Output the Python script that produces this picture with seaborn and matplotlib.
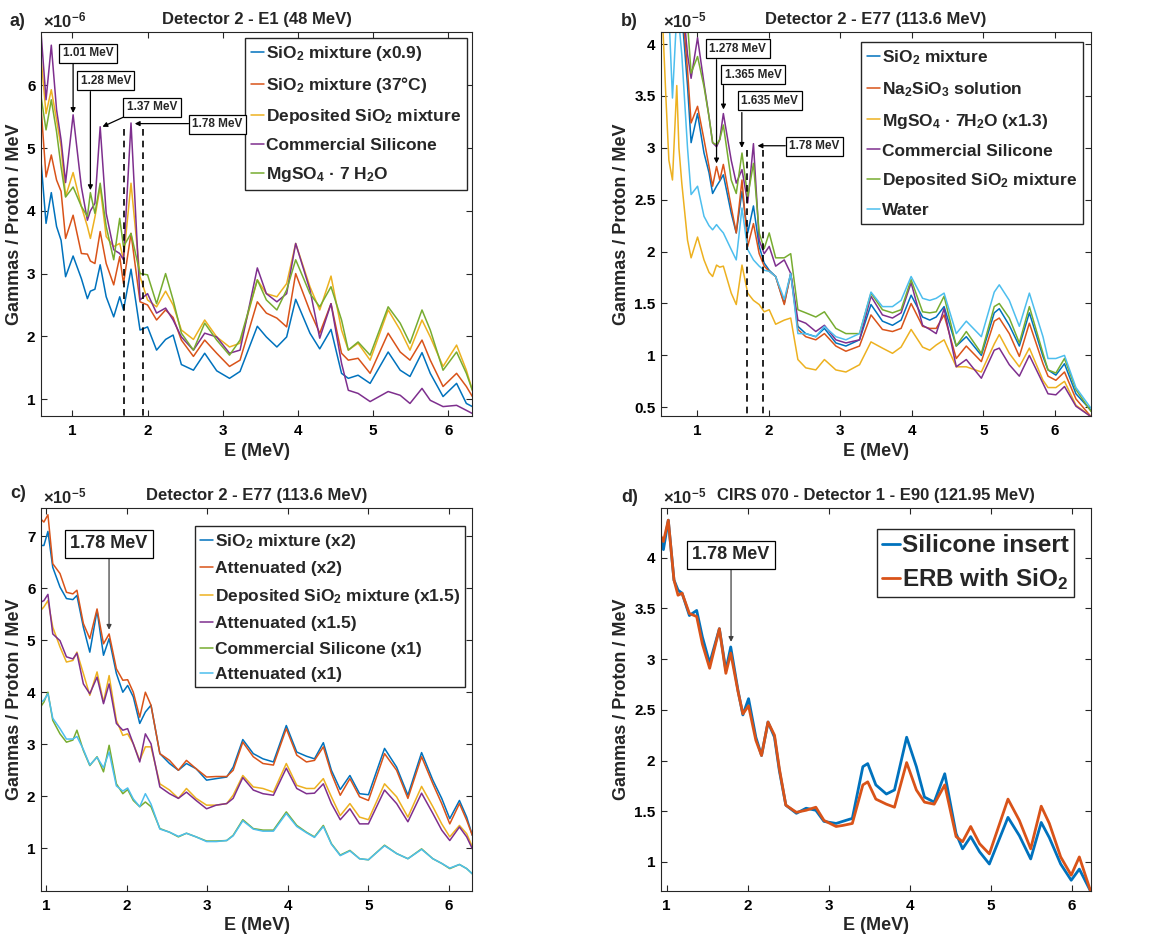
import numpy as np
import pandas as pd
import seaborn as sns
import matplotlib
matplotlib.use("Agg")
import matplotlib.pyplot as plt
from matplotlib.ticker import FormatStrFormatter

# ---------------------------------------------------------------- data
# a) Detector 2 - E1 (48 MeV), values in 1e-6 gammas / proton / MeV
energy_a = [0.58, 0.65, 0.72, 0.79, 0.85, 0.91, 1.01, 1.12, 1.20, 1.24, 1.30, 1.37,
            1.45, 1.55, 1.63, 1.68, 1.78, 1.90, 2.00, 2.12, 2.24, 2.34, 2.45, 2.61,
            2.76, 2.92, 3.09, 3.23, 3.46, 3.58, 3.72, 3.85, 3.97, 4.16, 4.29, 4.44,
            4.58, 4.67, 4.80, 4.96, 5.20, 5.36, 5.49, 5.65, 5.76, 5.93, 6.11, 6.24, 6.32]
sio2_x09 = [4.84, 3.80, 4.29, 3.75, 3.53, 2.95, 3.28, 2.92, 2.60, 2.72, 2.75, 3.14,
            2.63, 2.31, 2.63, 2.42, 3.07, 2.10, 2.15, 1.78, 1.95, 2.02, 1.55, 1.46,
            1.73, 1.45, 1.33, 1.44, 2.16, 1.99, 1.83, 1.99, 2.59, 2.05, 1.80, 2.11,
            1.41, 1.33, 1.38, 1.25, 1.75, 1.46, 1.36, 1.74, 1.41, 1.04, 1.25, 0.93, 0.88]
sio2_37c = [5.71, 4.54, 4.89, 4.49, 4.31, 3.56, 3.93, 3.32, 3.31, 3.20, 3.16, 3.67,
            3.16, 2.82, 3.27, 2.84, 3.64, 2.55, 2.50, 2.26, 2.42, 2.30, 1.94, 1.68,
            1.94, 1.73, 1.52, 1.62, 2.55, 2.37, 2.29, 2.15, 3.00, 2.40, 2.05, 2.52,
            1.73, 1.62, 1.65, 1.41, 2.05, 1.75, 1.62, 1.94, 1.62, 1.20, 1.41, 1.20, 1.04]
deposited_a = [6.48, 5.55, 5.93, 5.45, 5.02, 4.23, 4.61, 4.07, 3.75, 3.56, 3.90, 4.38,
               3.59, 3.43, 3.48, 3.22, 4.44, 2.95, 2.58, 2.47, 2.72, 2.50, 2.10, 1.95,
               2.26, 1.99, 1.83, 1.89, 2.90, 2.68, 2.63, 2.84, 3.48, 2.79, 2.42, 2.96,
               2.10, 1.78, 1.89, 1.62, 2.42, 2.10, 1.78, 2.26, 1.99, 1.52, 1.86, 1.46, 1.14]
silicone_a = [6.90, 5.77, 6.64, 5.61, 5.13, 4.45, 5.53, 4.38, 3.85, 4.00, 4.12, 5.34,
              3.96, 3.38, 3.32, 3.22, 5.40, 2.58, 2.68, 2.37, 2.45, 2.26, 1.99, 1.78,
              2.05, 1.99, 1.73, 1.78, 3.09, 2.68, 2.55, 2.68, 3.48, 2.74, 1.97, 2.52,
              1.57, 1.14, 1.09, 0.96, 1.12, 1.06, 0.93, 1.17, 0.98, 0.88, 0.90, 0.82, 0.77]
mgso4_a = [5.85, 5.29, 5.77, 5.26, 4.70, 4.22, 4.38, 4.07, 3.91, 4.29, 3.96, 4.44,
           3.75, 3.22, 3.88, 3.43, 3.64, 3.00, 2.98, 2.52, 3.00, 2.58, 2.05, 1.78,
           2.21, 1.94, 1.70, 1.94, 2.90, 2.58, 2.42, 2.74, 3.22, 2.68, 2.47, 2.79,
           2.26, 1.78, 1.91, 1.70, 2.47, 2.21, 1.89, 2.42, 2.10, 1.46, 1.75, 1.41, 1.14]

# b) Detector 2 - E77 (113.6 MeV), values in 1e-5
energy_b = [0.50, 0.53, 0.57, 0.61, 0.66, 0.72, 0.75, 0.79, 0.87, 0.92,
            1.01, 1.10, 1.17, 1.22, 1.275, 1.32, 1.37, 1.48, 1.55, 1.63,
            1.71, 1.79, 1.87, 1.94, 2.01, 2.10, 2.22, 2.31, 2.41, 2.52,
            2.66, 2.78, 2.94, 3.08, 3.27, 3.43, 3.59, 3.73, 3.85, 3.99,
            4.15, 4.25, 4.34, 4.45, 4.62, 4.76, 4.97, 5.15, 5.22, 5.36,
            5.50, 5.64, 5.83, 5.90, 6.01, 6.13, 6.29, 6.50]
sio2_b = [5.0, 5.0, 5.0, 5.0, 5.0, 4.8, 4.6, 4.3, 3.6, 3.05,
          3.33, 2.95, 2.76, 2.56, 2.63, 2.68, 2.74, 2.37, 2.18, 2.58,
          2.18, 2.44, 2.05, 1.89, 1.82, 1.76, 1.50, 1.79, 1.28, 1.21,
          1.18, 1.26, 1.12, 1.09, 1.15, 1.49, 1.33, 1.29, 1.34, 1.58,
          1.37, 1.34, 1.37, 1.47, 1.09, 1.18, 1.00, 1.41, 1.45, 1.29,
          1.09, 1.41, 0.99, 0.86, 0.81, 0.92, 0.63, 0.47]
na2sio3_b = [5.0, 5.0, 5.0, 5.0, 5.0, 4.9, 4.7, 4.4, 3.75, 3.24,
             3.40, 3.08, 2.82, 2.63, 2.82, 2.69, 2.84, 2.43, 2.18, 2.69,
             2.05, 2.27, 1.98, 1.86, 1.81, 1.76, 1.49, 1.79, 1.25, 1.18,
             1.15, 1.21, 1.09, 1.04, 1.09, 1.39, 1.25, 1.23, 1.26, 1.50,
             1.28, 1.26, 1.26, 1.39, 0.97, 1.09, 0.94, 1.33, 1.36, 1.21,
             0.99, 1.31, 0.92, 0.80, 0.76, 0.84, 0.58, 0.41]
mgso4_b = [5.0, 4.1, 3.46, 2.88, 2.69, 3.6, 3.0, 2.66, 2.11, 1.94,
           2.14, 1.92, 1.80, 1.76, 1.87, 1.85, 1.86, 1.60, 1.49, 1.87,
           1.60, 1.53, 1.49, 1.42, 1.44, 1.30, 1.34, 1.36, 0.96, 0.88,
           0.86, 0.96, 0.86, 0.84, 0.91, 1.13, 1.07, 1.02, 1.08, 1.25,
           1.08, 1.05, 1.10, 1.15, 0.89, 0.89, 0.84, 1.11, 1.20, 1.02,
           0.89, 1.07, 0.76, 0.69, 0.69, 0.75, 0.52, 0.41]
silicone_b = [5.0, 5.0, 5.0, 5.0, 5.0, 5.0, 5.0, 4.5, 3.9, 3.67,
              4.06, 3.62, 3.30, 3.05, 3.01, 3.08, 3.33, 2.88, 2.66, 2.79,
              2.47, 3.04, 2.11, 1.98, 2.05, 1.86, 1.92, 1.79, 1.34, 1.31,
              1.23, 1.29, 1.15, 1.12, 1.15, 1.57, 1.39, 1.36, 1.41, 1.70,
              1.29, 1.25, 1.21, 1.45, 0.89, 0.96, 0.78, 1.05, 1.07, 0.91,
              0.80, 1.00, 0.73, 0.63, 0.62, 0.70, 0.51, 0.41]
deposited_b = [5.0, 5.0, 5.0, 5.0, 5.0, 5.0, 5.0, 5.0, 4.2, 3.72,
               3.88, 3.59, 3.30, 3.05, 3.03, 3.08, 3.22, 2.69, 2.56, 2.95,
               2.53, 2.85, 2.18, 2.03, 2.18, 1.94, 1.94, 1.98, 1.44, 1.41,
               1.37, 1.42, 1.26, 1.21, 1.21, 1.60, 1.44, 1.41, 1.44, 1.73,
               1.42, 1.41, 1.42, 1.57, 1.09, 1.23, 1.02, 1.47, 1.50, 1.36,
               1.12, 1.47, 1.02, 0.86, 0.83, 0.97, 0.67, 0.46]
water_b = [5.0, 5.0, 5.0, 4.3, 3.48, 4.3, 4.2, 3.9, 3.0, 2.55,
           2.63, 2.34, 2.25, 2.21, 2.26, 2.22, 2.18, 2.02, 1.92, 2.42,
           2.02, 1.92, 1.86, 1.82, 1.81, 1.76, 1.54, 1.79, 1.21, 1.21,
           1.18, 1.28, 1.18, 1.15, 1.21, 1.61, 1.47, 1.47, 1.53, 1.76,
           1.55, 1.53, 1.55, 1.60, 1.21, 1.33, 1.18, 1.61, 1.68, 1.53,
           1.28, 1.60, 1.18, 0.97, 0.97, 1.00, 0.69, 0.49]

# c) Detector 2 - E77 (113.6 MeV), measured vs attenuated, values in 1e-5
energy_c = [0.93, 0.97, 1.02, 1.08, 1.17, 1.25, 1.33, 1.38, 1.46, 1.54,
            1.63, 1.71, 1.78, 1.87, 1.95, 2.01, 2.08, 2.16, 2.23, 2.30,
            2.41, 2.53, 2.64, 2.74, 2.86, 2.99, 3.11, 3.24, 3.32, 3.44,
            3.57, 3.69, 3.82, 3.98, 4.11, 4.23, 4.33, 4.44, 4.54, 4.65,
            4.77, 4.89, 5.00, 5.20, 5.35, 5.49, 5.66, 5.80, 5.91, 6.01,
            6.13, 6.22, 6.29]
sio2_x2 = [6.82, 6.82, 7.09, 6.40, 6.02, 5.80, 5.78, 5.86, 5.25, 4.77,
           5.57, 4.71, 5.03, 4.36, 4.00, 4.13, 3.91, 3.40, 3.62, 3.75,
           2.82, 2.63, 2.50, 2.63, 2.53, 2.31, 2.34, 2.37, 2.56, 3.09,
           2.82, 2.72, 2.66, 3.36, 2.85, 2.77, 2.72, 3.03, 2.50, 2.13,
           2.40, 2.05, 2.03, 2.92, 2.56, 2.02, 2.84, 2.31, 1.96, 1.57,
           1.92, 1.60, 1.25]
atten_x2 = [7.33, 7.27, 7.41, 6.47, 6.28, 5.92, 5.89, 5.96, 5.32, 5.03,
            5.60, 4.93, 5.12, 4.45, 4.23, 4.24, 4.00, 3.52, 4.00, 3.75,
            2.82, 2.69, 2.50, 2.69, 2.53, 2.37, 2.38, 2.38, 2.50, 3.04,
            2.76, 2.63, 2.60, 3.30, 2.79, 2.66, 2.69, 2.95, 2.44, 2.02,
            2.34, 1.99, 1.92, 2.82, 2.50, 1.96, 2.76, 2.24, 1.86, 1.47,
            1.86, 1.54, 1.25]
deposited_x15 = [5.57, 5.64, 5.76, 5.25, 4.87, 4.58, 4.61, 4.77, 4.36, 3.94,
                 4.39, 3.81, 4.32, 3.46, 3.17, 3.20, 3.01, 2.69, 2.95, 2.95,
                 2.24, 2.12, 1.96, 2.15, 1.96, 1.83, 1.83, 1.86, 2.02, 2.40,
                 2.18, 2.15, 2.08, 2.63, 2.21, 2.15, 2.15, 2.34, 1.99, 1.63,
                 1.86, 1.60, 1.55, 2.24, 1.99, 1.60, 2.19, 1.80, 1.47, 1.22,
                 1.44, 1.28, 1.03]
atten_x15 = [5.73, 5.76, 5.88, 5.12, 4.99, 4.68, 4.64, 4.75, 4.16, 3.97,
             4.29, 3.78, 4.16, 3.40, 3.27, 3.30, 3.01, 2.66, 3.20, 3.01,
             2.18, 2.05, 1.96, 2.08, 1.92, 1.76, 1.83, 1.86, 1.96, 2.36,
             2.12, 2.05, 2.02, 2.54, 2.15, 2.05, 2.06, 2.24, 1.86, 1.55,
             1.76, 1.47, 1.47, 2.12, 1.86, 1.51, 2.06, 1.67, 1.35, 1.15,
             1.41, 1.22, 0.99]
silicone_x1 = [3.72, 3.81, 4.00, 3.46, 3.20, 3.04, 3.08, 3.27, 2.88, 2.59,
               2.76, 2.47, 2.98, 2.24, 2.05, 2.13, 1.92, 1.80, 1.89, 1.80,
               1.38, 1.31, 1.22, 1.29, 1.22, 1.14, 1.14, 1.15, 1.25, 1.55,
               1.38, 1.35, 1.35, 1.70, 1.44, 1.31, 1.22, 1.44, 1.09, 0.87,
               0.96, 0.80, 0.78, 1.06, 0.90, 0.80, 0.99, 0.80, 0.71, 0.61,
               0.69, 0.61, 0.51]
atten_x1 = [3.80, 3.85, 3.97, 3.50, 3.30, 3.10, 3.10, 3.15, 2.90, 2.60,
            2.75, 2.55, 2.85, 2.20, 2.10, 2.16, 1.95, 1.80, 2.05, 1.85,
            1.37, 1.31, 1.23, 1.29, 1.22, 1.13, 1.13, 1.15, 1.24, 1.53,
            1.37, 1.33, 1.33, 1.67, 1.42, 1.30, 1.21, 1.42, 1.08, 0.86,
            0.95, 0.80, 0.78, 1.05, 0.90, 0.80, 0.98, 0.80, 0.71, 0.62,
            0.69, 0.61, 0.51]

# d) CIRS 070 - Detector 1 - E90 (121.95 MeV), values in 1e-5
energy_d = [0.93, 0.96, 1.02, 1.09, 1.14, 1.19, 1.28, 1.37, 1.44, 1.53,
            1.65, 1.73, 1.79, 1.88, 1.94, 2.01, 2.10, 2.17, 2.25, 2.33,
            2.39, 2.47, 2.60, 2.72, 2.84, 2.94, 3.09, 3.17, 3.29, 3.42,
            3.48, 3.58, 3.71, 3.81, 3.96, 4.08, 4.18, 4.30, 4.43, 4.57,
            4.65, 4.75, 4.86, 4.98, 5.21, 5.35, 5.49, 5.62, 5.72, 5.86,
            5.99, 6.09, 6.23]
silicone_insert = [4.17, 4.08, 4.37, 3.78, 3.68, 3.65, 3.43, 3.48, 3.22, 2.96,
                   3.30, 2.89, 3.12, 2.69, 2.45, 2.61, 2.23, 2.05, 2.38, 2.23,
                   1.90, 1.56, 1.48, 1.53, 1.51, 1.40, 1.38, 1.40, 1.43, 1.94,
                   1.97, 1.76, 1.67, 1.71, 2.23, 1.94, 1.64, 1.59, 1.87, 1.28,
                   1.13, 1.25, 1.10, 0.98, 1.44, 1.26, 1.03, 1.39, 1.24, 0.98,
                   0.82, 0.93, 0.71]
erb_sio2 = [4.21, 4.16, 4.37, 3.78, 3.63, 3.65, 3.45, 3.42, 3.15, 2.91,
            3.30, 2.86, 3.06, 2.68, 2.46, 2.54, 2.20, 2.05, 2.38, 2.25,
            1.92, 1.56, 1.49, 1.51, 1.54, 1.41, 1.35, 1.36, 1.38, 1.76,
            1.79, 1.62, 1.57, 1.54, 1.98, 1.71, 1.59, 1.57, 1.76, 1.25,
            1.20, 1.35, 1.18, 1.08, 1.62, 1.41, 1.13, 1.55, 1.38, 1.05,
            0.87, 1.05, 0.71]

# ---------------------------------------------------------------- style
sns.set_theme(style="ticks")
plt.rcParams.update({
    "font.family": ["Liberation Sans", "DejaVu Sans"],
    "font.weight": "bold",
    "axes.labelweight": "bold",
    "axes.titleweight": "bold",
    "mathtext.fontset": "custom",
    "mathtext.rm": "Liberation Sans",
    "mathtext.bf": "Liberation Sans:bold",
    "mathtext.it": "Liberation Sans:italic",
    "axes.edgecolor": "#262626",
    "axes.linewidth": 0.8,
    "xtick.color": "#262626",
    "ytick.color": "#262626",
    "xtick.labelcolor": "black",
    "ytick.labelcolor": "black",
})

BLUE, RED, YELLOW = "#0072BD", "#D95319", "#EDB120"
PURPLE, GREEN, CYAN = "#7E2F8E", "#77AC30", "#4DBEEE"

fig = plt.figure(figsize=(11.53, 9.40), dpi=100)
W, H = 1153, 940


def add_axes(left, top, right, bottom):
    return fig.add_axes([left / W, 1 - bottom / H, (right - left) / W, (bottom - top) / H])


ax_a = add_axes(41, 32, 472, 416)
ax_b = add_axes(661, 32, 1091, 416)
ax_c = add_axes(41, 508, 472, 891)
ax_d = add_axes(661, 508, 1091, 891)


def draw_curves(ax, energy, curves, lw):
    handles = []
    for label, values, color in curves:
        df = pd.DataFrame({"E": energy, "y": values})
        sns.lineplot(data=df, x="E", y="y", ax=ax, color=color, lw=lw,
                     estimator=None, sort=False, legend=False)
        line = ax.lines[-1]
        line.set_label(label)
        handles.append(line)
    return handles


def style_axes(ax, title, xlim, ylim, yticks, exponent):
    ax.set_xlim(*xlim)
    ax.set_ylim(*ylim)
    ax.set_xticks([1, 2, 3, 4, 5, 6])
    ax.set_yticks(yticks)
    ax.xaxis.set_major_formatter(FormatStrFormatter("%g"))
    ax.yaxis.set_major_formatter(FormatStrFormatter("%g"))
    ax.tick_params(direction="in", top=True, right=True, length=4, width=0.8,
                   labelsize=11, pad=4)
    ax.tick_params(axis="x", pad=6)
    ax.set_xlabel("E (MeV)", fontsize=13, labelpad=3)
    ax.set_ylabel("Gammas / Proton / MeV", fontsize=13, labelpad=3)
    ax.set_title(title, fontsize=12, pad=6)
    ax.text(0.004, 1.004, r"$\times10^{%d}$" % exponent, transform=ax.transAxes,
            ha="left", va="bottom", fontsize=12, fontweight="normal")
    for s in ax.spines.values():
        s.set_visible(True)


def legend(ax, handles, anchor, fs, spacing, pad=0.3):
    leg = ax.legend(handles=handles, loc="upper right", bbox_to_anchor=anchor,
                    fontsize=fs, frameon=True, fancybox=False, framealpha=1,
                    edgecolor="#262626", handlelength=0.75, handletextpad=0.1,
                    borderpad=pad, labelspacing=spacing, borderaxespad=0)
    leg.get_frame().set_linewidth(1.0)
    return leg


def callout(ax, text, box_xy, start, tip, fs, color="black"):
    ax.annotate("", xy=tip, xytext=start,
                arrowprops=dict(arrowstyle="-|>", color=color, lw=0.9,
                                shrinkA=0, shrinkB=0, mutation_scale=7),
                zorder=6)
    ax.text(box_xy[0], box_xy[1], text, ha="center", va="center", fontsize=fs,
            fontweight="bold", zorder=7,
            bbox=dict(boxstyle="square,pad=0.3", fc="white", ec="black", lw=0.9))


def dashed(ax, x, top, bottom):
    ax.plot([x, x], [top, bottom], color="black", lw=1.2, ls=(0, (4, 3)), zorder=4)


# ---------------------------------------------------------------- panel a
h = draw_curves(ax_a, energy_a, [
    (r"SiO$_\mathbf{2}$ mixture (x0.9)", sio2_x09, BLUE),
    (r"SiO$_\mathbf{2}$ mixture (37°C)", sio2_37c, RED),
    (r"Deposited SiO$_\mathbf{2}$ mixture", deposited_a, YELLOW),
    ("Commercial Silicone", silicone_a, PURPLE),
    (r"MgSO$_\mathbf{4}$ · 7 H$_\mathbf{2}$O", mgso4_a, GREEN),
], lw=1.1)
style_axes(ax_a, "Detector 2 - E1 (48 MeV)", (0.583, 6.315), (0.73, 6.85),
           [1, 2, 3, 4, 5, 6], -6)
dashed(ax_a, 1.688, 5.3, 0.5)
dashed(ax_a, 1.94, 5.3, 0.5)
callout(ax_a, "1.01 MeV", (1.21, 6.51), (1.01, 6.34), (1.01, 5.56), 8.5)
callout(ax_a, "1.28 MeV", (1.444, 6.07), (1.24, 5.90), (1.24, 4.33), 8.5)
callout(ax_a, "1.37 MeV", (2.06, 5.65), (1.674, 5.49), (1.40, 5.34), 8.5)
callout(ax_a, "1.78 MeV", (2.93, 5.38), (2.544, 5.39), (1.83, 5.39), 8.5)
legend(ax_a, h, (0.988, 0.984), 12.5, 0.68, pad=0.35)

# ---------------------------------------------------------------- panel b
h = draw_curves(ax_b, energy_b, [
    (r"SiO$_\mathbf{2}$ mixture", sio2_b, BLUE),
    (r"Na$_\mathbf{2}$SiO$_\mathbf{3}$ solution", na2sio3_b, RED),
    (r"MgSO$_\mathbf{4}$ · 7H$_\mathbf{2}$O (x1.3)", mgso4_b, YELLOW),
    ("Commercial Silicone", silicone_b, PURPLE),
    (r"Deposited SiO$_\mathbf{2}$ mixture", deposited_b, GREEN),
    ("Water", water_b, CYAN),
], lw=1.1)
style_axes(ax_b, "Detector 2 - E77 (113.6 MeV)", (0.5, 6.5), (0.416, 4.116),
           np.arange(0.5, 4.01, 0.5), -5)
dashed(ax_b, 1.703, 2.98, 0.3)
dashed(ax_b, 1.917, 2.98, 0.3)
callout(ax_b, "1.278 MeV", (1.573, 3.955), (1.275, 3.85), (1.275, 2.85), 8.5)
callout(ax_b, "1.365 MeV", (1.787, 3.704), (1.372, 3.60), (1.372, 3.37), 8.5)
callout(ax_b, "1.635 MeV", (2.015, 3.454), (1.628, 3.34), (1.628, 3.00), 8.5)
callout(ax_b, "1.78 MeV", (2.639, 3.013), (2.234, 3.02), (1.847, 3.02), 8.5)
legend(ax_b, h, (0.981, 0.973), 12.5, 0.74, pad=0.35)

# ---------------------------------------------------------------- panel c
h = draw_curves(ax_c, energy_c, [
    (r"SiO$_\mathbf{2}$ mixture (x2)", sio2_x2, BLUE),
    ("Attenuated (x2)", atten_x2, RED),
    (r"Deposited SiO$_\mathbf{2}$ mixture (x1.5)", deposited_x15, YELLOW),
    ("Attenuated (x1.5)", atten_x15, PURPLE),
    ("Commercial Silicone (x1)", silicone_x1, GREEN),
    ("Attenuated (x1)", atten_x1, CYAN),
], lw=1.1)
style_axes(ax_c, "Detector 2 - E77 (113.6 MeV)", (0.934, 6.286), (0.18, 7.54),
           [1, 2, 3, 4, 5, 6, 7], -5)
callout(ax_c, "1.78 MeV", (1.779, 6.85), (1.779, 6.58), (1.779, 5.20), 13, color="#404040")
legend(ax_c, h, (0.984, 0.952), 12.5, 0.6, pad=0.3)

# ---------------------------------------------------------------- panel d
h = draw_curves(ax_d, energy_d, [
    ("Silicone insert", silicone_insert, BLUE),
    (r"ERB with SiO$_\mathbf{2}$", erb_sio2, RED),
], lw=2.0)
style_axes(ax_d, "CIRS 070 - Detector 1 - E90 (121.95 MeV)", (0.93, 6.234), (0.714, 4.49),
           np.arange(1, 4.01, 0.5), -5)
callout(ax_d, "1.78 MeV", (1.794, 4.03), (1.794, 3.885), (1.794, 3.17), 13, color="#404040")
legend(ax_d, h, (0.96, 0.944), 17.5, 0.38, pad=0.2)

# ---------------------------------------------------------------- panel tags
for tag, x, y in [("a)", 10, 21), ("b)", 621, 21), ("c)", 10, 493), ("d)", 621, 497)]:
    fig.text(x / W, 1 - y / H, tag, ha="left", va="center", fontsize=13, fontweight="bold")

fig.savefig("out.png", dpi=100, facecolor="white")
